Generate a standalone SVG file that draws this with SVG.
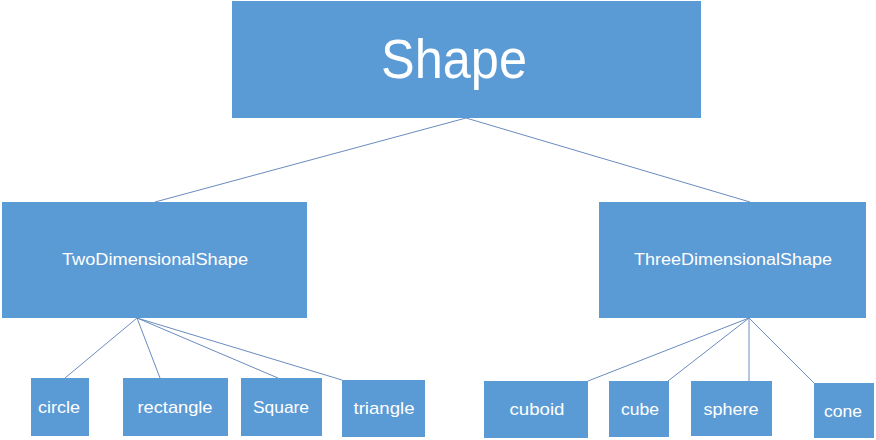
<svg xmlns="http://www.w3.org/2000/svg" width="876" height="440" viewBox="0 0 876 440">
<style>
.box{fill:#5B9BD5;}
.lbl{fill:#FFFFFF;font-family:"Liberation Sans",Arial,sans-serif;text-anchor:middle;}
.conn line{stroke:#6A8CBE;stroke-width:1;}
</style>
<rect width="876" height="440" fill="#FFFFFF"/>
<g class="conn" id="connectors">
<line x1="466" y1="118" x2="155" y2="202"/>
<line x1="466" y1="118" x2="750" y2="202"/>
<line x1="137" y1="318" x2="65" y2="378"/>
<line x1="137" y1="318" x2="160" y2="378"/>
<line x1="137" y1="318" x2="278" y2="378"/>
<line x1="137" y1="318" x2="342" y2="380"/>
<line x1="749" y1="318" x2="588" y2="381"/>
<line x1="749" y1="318" x2="668" y2="381"/>
<line x1="749" y1="318" x2="749" y2="381"/>
<line x1="749" y1="318" x2="814" y2="383"/>
</g>
<g id="shape"><rect class="box" x="232" y="1" width="469" height="117"/><text class="lbl" x="454" y="78" font-size="56" textLength="146" lengthAdjust="spacingAndGlyphs">Shape</text></g>
<g id="two"><rect class="box" x="2" y="202" width="305" height="116"/><text class="lbl" x="155" y="265" font-size="16" textLength="186" lengthAdjust="spacingAndGlyphs">TwoDimensionalShape</text></g>
<g id="three"><rect class="box" x="599" y="202" width="267" height="116"/><text class="lbl" x="733" y="265" font-size="16" textLength="198" lengthAdjust="spacingAndGlyphs">ThreeDimensionalShape</text></g>
<g id="circle"><rect class="box" x="31" y="378" width="58" height="58"/><text class="lbl" x="59" y="413" font-size="17" textLength="42" lengthAdjust="spacingAndGlyphs">circle</text></g>
<g id="rectangle"><rect class="box" x="123" y="378" width="105" height="58"/><text class="lbl" x="175" y="413" font-size="17" textLength="75" lengthAdjust="spacingAndGlyphs">rectangle</text></g>
<g id="square"><rect class="box" x="241" y="378" width="81" height="58"/><text class="lbl" x="281" y="413" font-size="17" textLength="56" lengthAdjust="spacingAndGlyphs">Square</text></g>
<g id="triangle"><rect class="box" x="342" y="380" width="83" height="57"/><text class="lbl" x="384" y="414" font-size="17" textLength="61" lengthAdjust="spacingAndGlyphs">triangle</text></g>
<g id="cuboid"><rect class="box" x="484" y="381" width="104" height="57"/><text class="lbl" x="537" y="415" font-size="17" textLength="55" lengthAdjust="spacingAndGlyphs">cuboid</text></g>
<g id="cube"><rect class="box" x="609" y="381" width="60" height="56"/><text class="lbl" x="640" y="415" font-size="17" textLength="38" lengthAdjust="spacingAndGlyphs">cube</text></g>
<g id="sphere"><rect class="box" x="691" y="381" width="81" height="55"/><text class="lbl" x="731" y="415" font-size="17" textLength="55" lengthAdjust="spacingAndGlyphs">sphere</text></g>
<g id="cone"><rect class="box" x="814" y="383" width="60" height="55"/><text class="lbl" x="843" y="417" font-size="17" textLength="38" lengthAdjust="spacingAndGlyphs">cone</text></g>
</svg>
